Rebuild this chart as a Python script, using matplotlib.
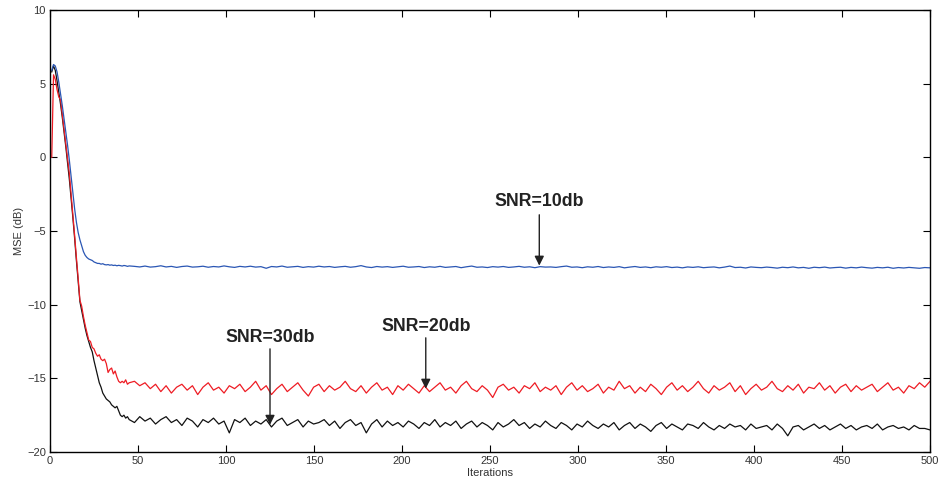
import numpy as np
import matplotlib.pyplot as plt

plt.rcParams['font.family'] = ['Liberation Sans', 'DejaVu Sans']

# transient part, iterations 1..45
start_iters = np.arange(1, 46)
red_start = [0.0, 5.6, 5.3, 4.6, 4.1, 3.9, 2.9, 1.9, 0.9, -0.1,
             -1.1, -2.5, -3.9, -5.3, -6.8, -8.2, -9.7, -10.1, -10.8, -11.4,
             -11.9, -12.4, -12.5, -12.9, -13.0, -13.3, -13.5, -13.4, -13.7, -13.8,
             -13.7, -14.0, -14.6, -14.4, -14.3, -14.7, -14.5, -14.9, -15.2, -15.3,
             -15.2, -15.3, -15.1, -15.4, -15.3]
black_start = [5.8, 6.2, 5.9, 5.2, 4.4, 3.6, 2.7, 1.7, 0.7, -0.4,
               -1.5, -2.8, -4.1, -5.5, -7.0, -8.4, -9.8, -10.4, -11.0, -11.6,
               -12.1, -12.5, -12.9, -13.2, -13.8, -14.3, -14.8, -15.3, -15.6, -16.0,
               -16.2, -16.4, -16.5, -16.6, -16.8, -16.9, -17.0, -16.9, -17.2, -17.5,
               -17.6, -17.5, -17.7, -17.6, -17.8]
blue_start = [5.9, 6.3, 6.2, 5.8, 5.1, 4.3, 3.5, 2.6, 1.7, 0.8,
              -0.2, -1.3, -2.4, -3.5, -4.4, -5.1, -5.6, -6.0, -6.4, -6.65,
              -6.8, -6.9, -6.95, -7.0, -7.1, -7.15, -7.2, -7.2, -7.25, -7.22,
              -7.28, -7.3, -7.28, -7.32, -7.3, -7.34, -7.32, -7.36, -7.33, -7.35,
              -7.38, -7.34, -7.36, -7.4, -7.37]

# steady part, iterations 48..500
red_steady = [-15.2, -15.5, -15.3, -15.7, -15.4, -15.9, -15.5, -16.0, -15.6, -15.4,
              -15.8, -15.5, -16.1, -15.6, -15.3, -15.8, -15.6, -16.0, -15.5, -15.7,
              -15.4, -15.9, -15.6, -15.2, -15.8, -15.5, -16.1, -15.7, -15.4, -15.9,
              -15.6, -15.3, -15.8, -16.2, -15.6, -15.4, -15.9, -15.5, -15.8, -15.6,
              -15.2, -15.7, -15.9, -15.5, -16.0, -15.6, -15.3, -15.8, -15.6, -16.1,
              -15.5, -15.8, -15.4, -15.7, -16.0, -15.5, -15.9, -15.6, -15.3, -15.8,
              -15.6, -16.0, -15.5, -15.2, -15.7, -15.9, -15.5, -15.8, -16.3, -15.6,
              -15.4, -15.8, -15.6, -16.0, -15.5, -15.7, -15.3, -15.9, -15.6, -15.8,
              -15.5, -16.1, -15.6, -15.3, -15.8, -15.5, -15.9, -15.7, -15.4, -16.0,
              -15.6, -15.8, -15.2, -15.7, -15.5, -16.0, -15.6, -15.9, -15.4, -15.7,
              -16.1, -15.6, -15.3, -15.8, -15.5, -15.9, -15.6, -15.2, -15.7, -16.0,
              -15.5, -15.8, -15.6, -15.3, -15.9, -15.5, -16.1, -15.7, -15.4, -15.8,
              -15.6, -15.2, -15.7, -15.9, -15.5, -15.8, -15.4, -16.0, -15.6, -15.7,
              -15.3, -15.8, -15.5, -16.0, -15.6, -15.4, -15.9, -15.5, -15.8, -15.6,
              -15.4, -15.9, -15.6, -15.3, -15.8, -15.6, -16.0, -15.5, -15.7, -15.3,
              -15.6, -15.2]
black_steady = [-18.0, -17.6, -17.9, -17.7, -18.1, -17.8, -17.6, -18.0, -17.8, -18.2,
                -17.7, -17.9, -18.3, -17.8, -18.0, -17.7, -18.1, -17.9, -18.7, -17.8,
                -18.0, -17.7, -18.2, -17.9, -18.1, -17.8, -18.3, -17.9, -17.7, -18.2,
                -18.0, -17.8, -18.3, -17.9, -18.1, -18.0, -17.8, -18.2, -17.9, -18.4,
                -18.0, -17.8, -18.2, -18.0, -18.7, -18.1, -17.8, -18.3, -17.9, -18.2,
                -18.0, -18.3, -17.9, -18.1, -18.4, -18.0, -18.2, -17.8, -18.3, -18.0,
                -18.2, -17.9, -18.4, -18.1, -17.9, -18.3, -18.0, -18.2, -18.5, -18.0,
                -18.3, -18.1, -17.8, -18.2, -18.0, -18.4, -18.1, -18.3, -17.9, -18.2,
                -18.4, -18.0, -18.2, -18.5, -18.1, -18.3, -17.9, -18.2, -18.4, -18.1,
                -18.3, -18.0, -18.5, -18.2, -18.0, -18.4, -18.1, -18.3, -18.6, -18.2,
                -18.0, -18.4, -18.1, -18.3, -18.5, -18.1, -18.2, -18.4, -18.0, -18.3,
                -18.5, -18.2, -18.4, -18.1, -18.3, -18.2, -18.5, -18.1, -18.4, -18.3,
                -18.2, -18.5, -18.1, -18.4, -18.9, -18.3, -18.2, -18.5, -18.3, -18.1,
                -18.4, -18.2, -18.5, -18.3, -18.1, -18.4, -18.2, -18.5, -18.3, -18.2,
                -18.4, -18.1, -18.5, -18.3, -18.2, -18.4, -18.3, -18.5, -18.2, -18.4,
                -18.4, -18.5]
blue_steady = [-7.40, -7.44, -7.38, -7.45, -7.42, -7.36, -7.44, -7.40, -7.47, -7.41,
               -7.38, -7.45, -7.43, -7.39, -7.46, -7.41, -7.44, -7.37, -7.43, -7.47,
               -7.40, -7.44, -7.39, -7.45, -7.42, -7.53, -7.41, -7.44, -7.38, -7.46,
               -7.43, -7.40, -7.47, -7.42, -7.45, -7.39, -7.44, -7.41, -7.47, -7.43,
               -7.40, -7.46, -7.42, -7.35, -7.44, -7.48, -7.41, -7.45, -7.42, -7.47,
               -7.43, -7.39, -7.46, -7.44, -7.41, -7.48, -7.43, -7.46, -7.40, -7.47,
               -7.44, -7.41, -7.49, -7.43, -7.38, -7.46, -7.44, -7.48, -7.42, -7.45,
               -7.41, -7.47, -7.44, -7.40, -7.46, -7.43, -7.49, -7.42, -7.45, -7.44,
               -7.47, -7.42, -7.38, -7.46, -7.44, -7.49, -7.43, -7.46, -7.41, -7.48,
               -7.44, -7.47, -7.42, -7.50, -7.45, -7.41, -7.47, -7.44, -7.49, -7.43,
               -7.46, -7.42, -7.48, -7.45, -7.50, -7.44, -7.47, -7.43, -7.49, -7.46,
               -7.44, -7.50, -7.45, -7.38, -7.48, -7.46, -7.51, -7.44, -7.47, -7.49,
               -7.45, -7.48, -7.52, -7.46, -7.49, -7.44, -7.50, -7.47, -7.53, -7.46,
               -7.49, -7.45, -7.51, -7.48, -7.46, -7.52, -7.47, -7.50, -7.45, -7.49,
               -7.52, -7.47, -7.50, -7.46, -7.53, -7.48, -7.51, -7.47, -7.50, -7.53,
               -7.48, -7.50]

labels = ['SNR=10db', 'SNR=20db', 'SNR=30db']
label_pos = [(278, -3.0), (213.5, -11.45), (125, -12.2)]
arrow_tail = [(278, -3.9), (213.5, -12.25), (125, -13.0)]
arrow_tip = [(278, -7.35), (213.5, -15.7), (125, -18.15)]


def full_series(start, steady):
    x = np.concatenate([start_iters, np.linspace(48, 500, len(steady))])
    y = np.concatenate([start, steady])
    return x, y


fig = plt.figure(figsize=(9.38, 4.82), dpi=100)
ax = fig.add_axes([0.0533, 0.0622, 0.9382, 0.9171])

ax.plot(*full_series(black_start, black_steady), color='#111111', lw=0.9)
ax.plot(*full_series(red_start, red_steady), color='#ee1c24', lw=0.9)
ax.plot(*full_series(blue_start, blue_steady), color='#2a56b4', lw=0.9)

for txt, pos, tail, tip in zip(labels, label_pos, arrow_tail, arrow_tip):
    ax.text(pos[0], pos[1], txt, ha='center', va='center',
            fontsize=12.8, fontweight='bold', color='#222222')
    ax.annotate('', xy=tip, xytext=tail,
                arrowprops=dict(arrowstyle='-|>', color='#222222', lw=1.0,
                                mutation_scale=14, shrinkA=0, shrinkB=0))

ax.set_xlim(0, 500)
ax.set_ylim(-20, 10)
ax.set_xticks(np.arange(0, 501, 50))
ax.set_yticks(np.arange(-20, 11, 5))
ax.tick_params(direction='in', length=5, top=True, right=True,
               labelsize=8, labelcolor='#333333', width=0.8, pad=3)
for s in ax.spines.values():
    s.set_linewidth(1.0)
ax.set_xlabel('Iterations', fontsize=8, color='#333333', labelpad=1)
ax.set_ylabel('MSE (dB)', fontsize=8, color='#333333', labelpad=2)

fig.savefig('out.png', dpi=100)
